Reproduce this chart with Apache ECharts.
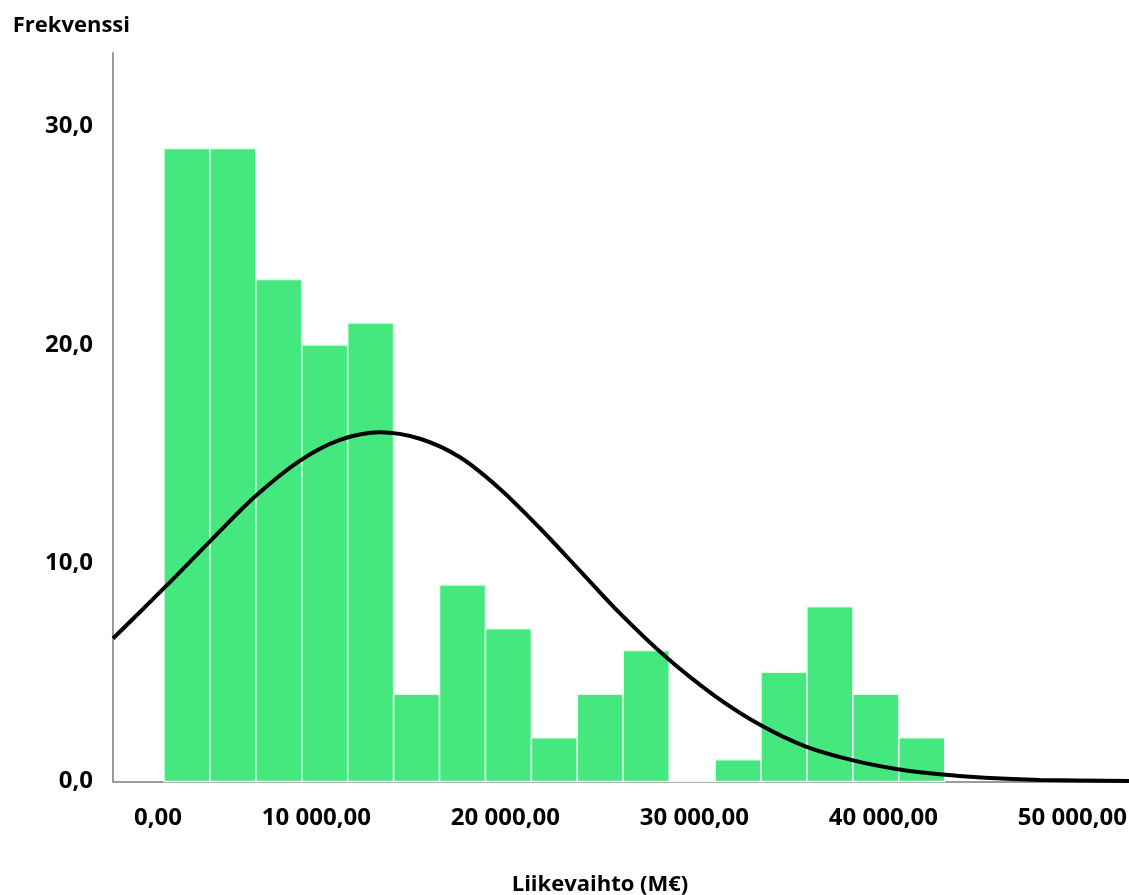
<!DOCTYPE html>
<html>
<head>
<meta charset="utf-8">
<script src="https://cdn.jsdelivr.net/npm/echarts@6/dist/echarts.min.js"></script>
<style>
  html, body { margin: 0; padding: 0; background: #ffffff; }
  #chart { width: 1129px; height: 895px; }
</style>
</head>
<body>
<div id="chart"></div>
<script>
// ---- data ----
// histogram bins (lower edges, M€) and frequencies
const binLower = [0, 2430, 4860, 7290, 9720, 12150, 14580, 17010, 19440, 21870, 24300, 26730, 29160, 31590, 34020, 36450, 38880];
const binWidth = 2430;
const frequencies = [29, 29, 23, 20, 21, 4, 9, 7, 2, 4, 6, 0, 1, 5, 8, 4, 2];

// fitted normal curve
const curveX = [-2698, 53, 2434, 4815, 7196, 9312, 11429, 13545, 15661, 17778, 19894, 22011, 24127, 26561, 29101, 31534, 33968, 36402, 38836, 41058, 43439, 46349, 51058];
const curveY = [6.55, 8.9, 11.0, 13.05, 14.7, 15.65, 16.0, 15.7, 14.85, 13.4, 11.6, 9.65, 7.7, 5.7, 3.95, 2.6, 1.6, 0.98, 0.56, 0.33, 0.17, 0.07, 0.02];

// axis ticks and labels
const xTickValues = [0, 10000, 20000, 30000, 40000, 50000];
const xTickLabels = ['0,00', '10 000,00', '20 000,00', '30 000,00', '40 000,00', '50 000,00'];
const yTickValues = [0, 10, 20, 30];
const yTickLabels = ['0,0', '10,0', '20,0', '30,0'];

const xTitle = 'Liikevaihto (M€)';
const yTitle = 'Frekvenssi';

// ---- chart ----
const barData = frequencies.map((f, i) => [binLower[i], binLower[i] + binWidth, f]);
const curveData = curveX.map((x, i) => [x, curveY[i]]);

const FONT = "'Open Sans', 'DejaVu Sans', sans-serif";
const chart = echarts.init(document.getElementById('chart'), null, { renderer: 'canvas' });

chart.setOption({
  animation: false,
  backgroundColor: '#ffffff',
  grid: { left: 113, right: 0, top: 53, bottom: 113.5, containLabel: false, outerBoundsMode: 'none' },
  xAxis: {
    type: 'value',
    min: -2698,
    max: 51058,
    name: xTitle,
    nameLocation: 'middle',
    nameGap: 92,
    nameTextStyle: { fontFamily: FONT, fontWeight: 'bold', fontSize: 22, color: '#000', padding: [0, 42, 0, 0] },
    axisLine: { show: true, lineStyle: { color: '#9a9a9a', width: 2 } },
    axisTick: { show: false },
    splitLine: { show: false },
    axisLabel: {
      customValues: xTickValues,
      formatter: v => xTickLabels[xTickValues.indexOf(v)],
      fontFamily: FONT, fontWeight: 'bold', fontSize: 24, color: '#000',
      align: 'right',
      padding: [0, -18, 0, 0],
      margin: 25
    }
  },
  yAxis: {
    type: 'value',
    min: 0,
    max: 33.37,
    name: yTitle,
    nameLocation: 'end',
    nameGap: 16,
    nameTextStyle: { fontFamily: FONT, fontWeight: 'bold', fontSize: 22, color: '#000', align: 'right', padding: [0, -17, 0, 0] },
    axisLine: { show: true, onZero: false, lineStyle: { color: '#9a9a9a', width: 2 } },
    axisTick: { show: false },
    splitLine: { show: false },
    axisLabel: {
      customValues: yTickValues,
      formatter: v => yTickLabels[yTickValues.indexOf(v)],
      fontFamily: FONT, fontWeight: 'bold', fontSize: 24, color: '#000',
      margin: 20
    }
  },
  series: [
    {
      type: 'custom',
      name: 'Frekvenssi',
      data: barData,
      encode: { x: [0, 1], y: 2 },
      renderItem: function (params, api) {
        const p0 = api.coord([api.value(0), api.value(2)]);
        const p1 = api.coord([api.value(1), 0]);
        return {
          type: 'rect',
          shape: { x: p0[0], y: p0[1], width: p1[0] - p0[0], height: p1[1] - p0[1] },
          style: { fill: '#45e87e', stroke: '#e9fbef', lineWidth: 1.5 }
        };
      },
      z: 2
    },
    {
      type: 'line',
      name: 'Normal',
      data: curveData,
      smooth: 0.3,
      showSymbol: false,
      lineStyle: { color: '#000000', width: 4 },
      z: 3
    }
  ]
});
</script>
</body>
</html>
